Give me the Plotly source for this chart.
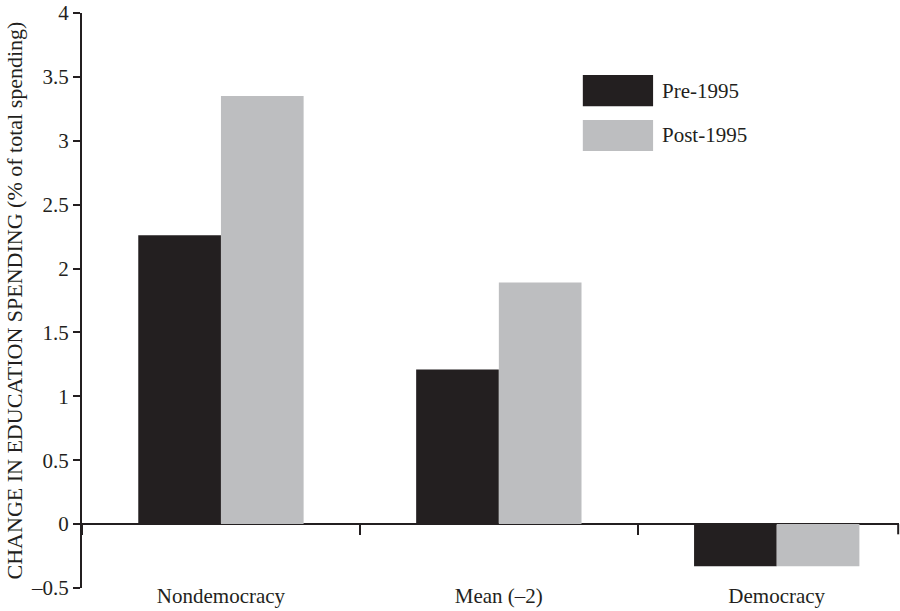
import plotly.graph_objects as go

categories = ["Nondemocracy", "Mean (–2)", "Democracy"]
pre_1995 = [2.26, 1.21, -0.33]
post_1995 = [3.35, 1.89, -0.33]
series_names = ["Pre-1995", "Post-1995"]
y_ticks = [-0.5, 0, 0.5, 1, 1.5, 2, 2.5, 3, 3.5, 4]
y_tick_text = ["–0.5", "0", "0.5", "1", "1.5", "2", "2.5", "3", "3.5", "4"]

BLACK = "#231F20"
GRAY = "#BDBEC0"
FONT = "Liberation Serif"

fig = go.Figure()
fig.add_trace(go.Bar(x=categories, y=pre_1995, name=series_names[0],
                     marker=dict(color=BLACK, line=dict(width=0)), showlegend=False))
fig.add_trace(go.Bar(x=categories, y=post_1995, name=series_names[1],
                     marker=dict(color=GRAY, line=dict(width=0)), showlegend=False))
# invisible helper trace for the tick axis along zero
fig.add_trace(go.Scatter(x=categories, y=[None, None, None], xaxis="x2", yaxis="y",
                         mode="markers", showlegend=False, hoverinfo="skip"))

xrange = [-0.5, 2.44]
fig.update_layout(
    width=900, height=611,
    margin=dict(l=82, r=1, t=13, b=23, autoexpand=False),
    paper_bgcolor="white", plot_bgcolor="white",
    barmode="group", bargap=0.405, bargroupgap=0,
    font=dict(family=FONT, color=BLACK),
    xaxis=dict(type="category", categoryarray=categories, range=xrange,
               showline=False, ticks="", showgrid=False, zeroline=False,
               ticklabelstandoff=-7, ticklabeloverflow="allow",
               tickfont=dict(size=21, family=FONT, color=BLACK), automargin=False),
    xaxis2=dict(type="category", categoryarray=categories, range=xrange,
                overlaying="x", anchor="free", position=0.5 / 4.5,
                showline=False, showgrid=False, zeroline=False,
                ticks="outside", tickson="boundaries", ticklen=10, tickwidth=2,
                tickcolor=BLACK, showticklabels=False, automargin=False),
    yaxis=dict(range=[-0.5, 4], tickmode="array", tickvals=y_ticks, ticktext=y_tick_text,
               showline=True, linecolor=BLACK, linewidth=2,
               ticks="outside", ticklen=7, tickwidth=2, tickcolor=BLACK,
               showgrid=False, zeroline=True, zerolinecolor=BLACK, zerolinewidth=2,
               ticklabeloverflow="allow",
               tickfont=dict(size=21, family=FONT, color=BLACK), automargin=False,
               title=dict(text="CHANGE IN EDUCATION SPENDING (% of total spending)",
                          font=dict(size=22, family=FONT, color=BLACK), standoff=2)),
)

# right-end tick of the zero axis
fig.add_shape(type="line", xref="paper", yref="y", x0=0.999, x1=0.999, y0=0, y1=-0.08,
              line=dict(color=BLACK, width=2))

# custom legend
legend_items = [(series_names[0], BLACK, 0.892, 0.838), (series_names[1], GRAY, 0.814, 0.760)]
for name, color, ytop, ybot in legend_items:
    fig.add_shape(type="rect", xref="paper", yref="paper", x0=0.613, x1=0.699,
                  y0=ybot, y1=ytop, fillcolor=color, line=dict(width=0))
    fig.add_annotation(xref="paper", yref="paper", x=0.7075, y=(ytop + ybot) / 2,
                       text=name, showarrow=False, xanchor="left", yanchor="middle",
                       font=dict(size=21, family=FONT, color=BLACK))

fig.write_html("out.html", config={"displayModeBar": False},
               post_script="document.body.style.margin='0';document.body.style.overflow='hidden';")
